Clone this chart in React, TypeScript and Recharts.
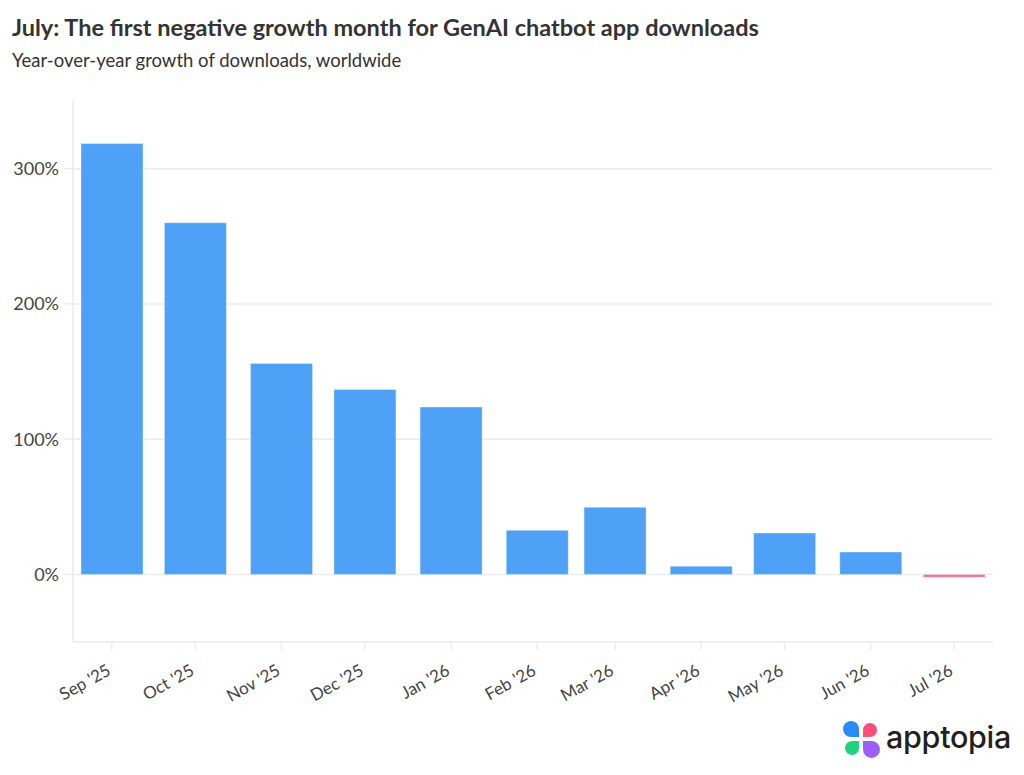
import React from 'react';
import { BarChart, Bar, Cell, XAxis, YAxis, CartesianGrid } from 'recharts';

// Months (first day of each month) and their labels
const MONTHS = [
  '2025-09', '2025-10', '2025-11', '2025-12', '2026-01', '2026-02',
  '2026-03', '2026-04', '2026-05', '2026-06', '2026-07',
];
const MONTH_LABELS = [
  "Sep '25", "Oct '25", "Nov '25", "Dec '25", "Jan '26", "Feb '26",
  "Mar '26", "Apr '26", "May '26", "Jun '26", "Jul '26",
];
// Year-over-year growth of downloads, %
const YOY_GROWTH = [318.5, 260, 156, 136.7, 123.7, 32.6, 49.6, 6, 30.6, 16.5, -2.2];

const Y_TICKS = [0, 100, 200, 300];

const DAY = 86400000;
const toTime = (m: string) => {
  const [y, mo] = m.split('-').map(Number);
  return Date.UTC(y, mo - 1, 1);
};

const data = MONTHS.map((m, i) => ({
  time: toTime(m),
  label: MONTH_LABELS[i],
  growth: YOY_GROWTH[i],
}));

const X_TICKS = data.map((d) => d.time);
const labelByTime = new Map(data.map((d) => [d.time, d.label]));
const X_DOMAIN = [X_TICKS[0] - 14 * DAY, X_TICKS[0] + 317 * DAY];

const FONT = 'Lato, "Noto Sans", sans-serif';
const GRID = '#ebebeb';
const BLUE = '#4ea1f6';
const PINK = '#f0709a';

// rotated month label, end-anchored just under its tick
const MonthTick = (props: any) => {
  const { x, y, payload } = props;
  return (
    <g transform={`translate(${x},${y + 22}) rotate(-29)`}>
      <text x={0} y={0} textAnchor="end" fill="#444" fontSize={17} fontFamily={FONT}>
        {labelByTime.get(payload.value)}
      </text>
    </g>
  );
};

const Logo = () => (
  <div style={{ position: 'absolute', left: 843, top: 721, display: 'flex', alignItems: 'center' }}>
    <svg width={38} height={38} viewBox="0 0 38 38">
      <path d="M8 0 A8 8 0 0 1 16 8 V16 H8 A8 8 0 0 1 8 0 Z" fill="#2b8bf6" />
      <path d="M27 2 A7 7 0 0 1 27 16 H20 V9 A7 7 0 0 1 27 2 Z" fill="#ff4d7d" />
      <path d="M2 27 A7 7 0 0 1 9 20 H16 V27 A7 7 0 0 1 2 27 Z" fill="#1fd37b" />
      <path d="M20 20 H28 A8.5 8.5 0 1 1 20 28.5 Z" fill="#9d5ef7" />
    </svg>
    <span
      style={{
        marginLeft: 5,
        marginTop: -7,
        fontFamily: 'Inter, sans-serif',
        fontWeight: 500,
        fontSize: 30.5,
        letterSpacing: -0.3,
        color: '#231f20',
      }}
    >
      apptopia
    </span>
  </div>
);

export default function App() {
  return (
    <div
      style={{
        position: 'absolute',
        left: 0,
        top: 0,
        width: 1024,
        height: 775,
        background: '#fff',
        fontFamily: FONT,
      }}
    >
      <div style={{ position: 'absolute', left: 12, top: 13, fontSize: 23.5, fontWeight: 700, color: '#333' }}>
        July: The first negative growth month for GenAI chatbot app downloads
      </div>
      <div style={{ position: 'absolute', left: 12, top: 49, fontSize: 18.5, color: '#333' }}>
        Year-over-year growth of downloads, worldwide
      </div>
      <div style={{ position: 'absolute', left: 0, top: 0 }}>
        <BarChart
          width={1024}
          height={715}
          data={data}
          margin={{ top: 101, right: 31, bottom: 15, left: 0 }}
        >
          <CartesianGrid vertical={false} stroke={GRID} strokeWidth={1.5} syncWithTicks />
          <XAxis
            dataKey="time"
            type="number"
            scale="linear"
            domain={X_DOMAIN}
            ticks={X_TICKS}
            allowDataOverflow
            height={58}
            stroke={GRID}
            axisLine={{ stroke: GRID, strokeWidth: 1.5 }}
            tickLine={{ stroke: GRID, strokeWidth: 1.5 }}
            tickSize={8}
            tickMargin={2}
            tick={<MonthTick />}
            interval={0}
          />
          <YAxis
            type="number"
            domain={[-50, 350]}
            ticks={Y_TICKS}
            width={73}
            axisLine={{ stroke: GRID, strokeWidth: 1.5 }}
            tickLine={{ stroke: GRID, strokeWidth: 1.5 }}
            tickSize={8}
            tickMargin={6}
            tickFormatter={(v) => `${v}%`}
            tick={{ fill: '#444', fontSize: 18, fontFamily: FONT }}
          />
          <Bar dataKey="growth" barSize={62} stroke="rgba(255,255,255,0.35)" isAnimationActive={false}>
            {data.map((d, i) => (
              <Cell key={`cell-${i}`} fill={d.growth < 0 ? PINK : BLUE} />
            ))}
          </Bar>
        </BarChart>
      </div>
      <Logo />
    </div>
  );
}
